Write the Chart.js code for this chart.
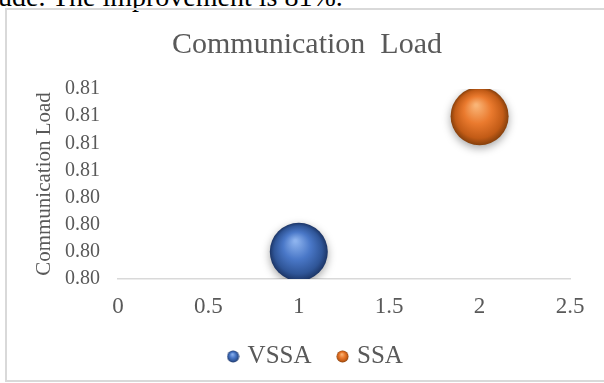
<!DOCTYPE html>
<html>
<head>
<meta charset="utf-8">
<script src="https://cdn.jsdelivr.net/npm/chart.js@4"></script>
<style>
  html, body { margin: 0; padding: 0; background: #fff; width: 604px; height: 383px; overflow: hidden; position: relative; }
  #lead { position: absolute; left: -2px; top: -17px; font: 28px/28px "Liberation Serif", serif; color: #000; white-space: nowrap; }
  #frame { position: absolute; left: 5px; top: 8px; width: 640px; height: 374px; box-sizing: border-box; border: 2px solid #d9d9d9; }
  canvas { position: absolute; left: 0; top: 0; }
</style>
</head>
<body>
<div id="lead">ude. The improvement is 81%.</div>
<div id="frame"></div>
<canvas id="c" width="604" height="383"></canvas>
<script>
// Series and axis data
const seriesNames = ['VSSA', 'SSA'];
const xValues = [1, 2];
const yValues = [0.802, 0.807];
const xTickValues = [0, 0.5, 1, 1.5, 2, 2.5];
const xTickLabels = ['0', '0.5', '1', '1.5', '2', '2.5'];
const yTickValues = [0.801, 0.802, 0.803, 0.804, 0.805, 0.806, 0.807, 0.808];
const yTickLabels = ['0.80', '0.80', '0.80', '0.80', '0.81', '0.81', '0.81', '0.81'];

const BUBBLE_R = 29;
const SERIF = '"Liberation Serif", "Times New Roman", serif';
const TEXT = '#595959';

const tones = [
  { light: '#8db3ee', mid: '#4a78c8', dark: '#2f5597', edge: '#1c3566' },
  { light: '#f9b476', mid: '#ea7a2e', dark: '#c25b16', edge: '#86400c' }
];

function sphereFill(ctx, cx, cy, r, t) {
  const g = ctx.createRadialGradient(cx - r * 0.12, cy - r * 0.38, r * 0.04, cx, cy, r);
  g.addColorStop(0, t.light);
  g.addColorStop(0.45, t.mid);
  g.addColorStop(0.82, t.dark);
  g.addColorStop(1, t.edge);
  return g;
}

// small shaded ball used as the legend marker
function legendBall(t) {
  const cv = document.createElement('canvas');
  cv.width = 13; cv.height = 13;
  const c = cv.getContext('2d');
  c.fillStyle = sphereFill(c, 6.5, 6.5, 6, t);
  c.beginPath(); c.arc(6.5, 6.5, 6, 0, Math.PI * 2); c.fill();
  return cv;
}

const datasets = seriesNames.map((name, i) => ({
  label: name,
  data: [{ x: xValues[i], y: yValues[i] }],
  radius: BUBBLE_R,
  hoverRadius: 0,
  borderWidth: 0,
  clip: 0,
  backgroundColor: (c) => {
    if (c.type !== 'data' || !c.raw) return tones[i].mid;
    const sx = c.chart.scales.x, sy = c.chart.scales.y;
    if (!sx || !sy) return tones[i].mid;
    const px = sx.getPixelForValue(c.raw.x), py = sy.getPixelForValue(c.raw.y);
    if (!isFinite(px) || !isFinite(py)) return tones[i].mid;
    return sphereFill(c.chart.ctx, px, py, BUBBLE_R, tones[i]);
  }
}));

const softShadow = {
  id: 'softShadow',
  beforeDatasetsDraw(chart) {
    const ctx = chart.ctx;
    ctx.save();
    ctx.shadowColor = 'rgba(0,0,0,0.35)';
    ctx.shadowBlur = 8;
    ctx.shadowOffsetY = 3;
  },
  afterDatasetsDraw(chart) { chart.ctx.restore(); }
};

// nudge the title and legend row a little right of the canvas centre
const blockShift = {
  id: 'blockShift',
  afterLayout(chart) {
    if (chart.legend) { chart.legend.left += 17; chart.legend.right += 17; }
    if (chart.titleBlock) { chart.titleBlock.left += 7; chart.titleBlock.right += 7; }
  }
};

new Chart(document.getElementById('c'), {
  type: 'bubble',
  data: { datasets },
  plugins: [softShadow, blockShift],
  options: {
    responsive: false,
    animation: false,
    devicePixelRatio: 1,
    events: [],
    layout: { padding: { left: 30, right: 34, top: 0, bottom: 4 } },
    plugins: {
      tooltip: { enabled: false },
      title: {
        display: true,
        text: 'Communication  Load',
        color: TEXT,
        font: { family: SERIF, size: 30, weight: 'normal' },
        padding: { top: 27, bottom: 26 }
      },
      legend: {
        position: 'bottom',
        labels: {
          usePointStyle: true,
          boxWidth: 4,
          padding: 29,
          color: TEXT,
          font: { family: SERIF, size: 25 },
          generateLabels: () => seriesNames.map((name, i) => ({
            text: name,
            fillStyle: tones[i].mid,
            strokeStyle: tones[i].mid,
            lineWidth: 0,
            pointStyle: legendBall(tones[i]),
            hidden: false,
            datasetIndex: i,
            fontColor: TEXT
          }))
        }
      }
    },
    scales: {
      x: {
        type: 'linear',
        min: 0,
        max: 2.5,
        afterBuildTicks: (s) => { s.ticks = xTickValues.map(v => ({ value: v })); },
        afterFit: (s) => { s.height = 36; },
        grid: { display: false, drawTicks: false },
        border: { display: true, color: '#d9d9d9', width: 1.5 },
        ticks: {
          color: TEXT,
          padding: 14,
          font: { family: SERIF, size: 23 },
          maxRotation: 0,
          callback: (v, idx) => xTickLabels[idx]
        }
      },
      y: {
        type: 'linear',
        min: 0.801,
        max: 0.808,
        afterBuildTicks: (s) => { s.ticks = yTickValues.map(v => ({ value: v })); },
        afterFit: (s) => { s.width = 88; },
        grid: { display: false, drawTicks: false },
        border: { display: false },
        title: {
          display: true,
          text: 'Communication Load',
          color: TEXT,
          font: { family: SERIF, size: 21 },
          padding: { top: 2, bottom: 0 }
        },
        ticks: {
          color: TEXT,
          padding: 18,
          font: { family: SERIF, size: 20 },
          callback: (v, idx) => yTickLabels[idx]
        }
      }
    }
  }
});
</script>
</body>
</html>
